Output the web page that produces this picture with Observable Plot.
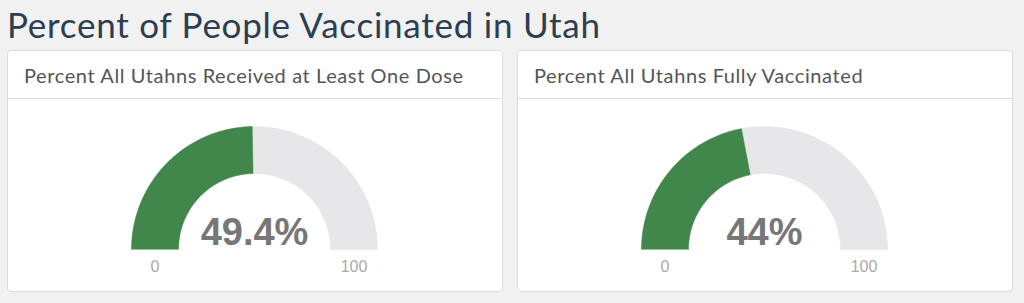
<!DOCTYPE html>
<html><head><meta charset="utf-8">
<script src="https://cdn.jsdelivr.net/npm/d3@7"></script>
<script src="https://cdn.jsdelivr.net/npm/@observablehq/plot@0.6"></script>
<style>
html,body{margin:0;padding:0}
body{background:#f1f1f1;font-family:Lato,sans-serif;width:1024px;height:303px;overflow:hidden;position:relative}
h1{position:absolute;left:7px;top:0px;margin:0;font-weight:400;font-size:35px;letter-spacing:0.75px;line-height:48px;color:#2c3e50;white-space:nowrap}
.card{position:absolute;top:50px;width:496px;height:242px;background:#fff;border:1px solid #dcdcdc;border-radius:4px;box-sizing:border-box;overflow:hidden}
.hdr{height:48px;border-bottom:1px solid #dcdcdc;box-sizing:border-box;padding-left:16px;font-size:20px;letter-spacing:0.6px;line-height:49px;color:#555;white-space:nowrap}
.card svg{display:block}
</style></head>
<body>
<h1>Percent of People Vaccinated in Utah</h1>
<div class="card" id="c0" style="left:7px"><div class="hdr"></div></div>
<div class="card" id="c1" style="left:517px"><div class="hdr"></div></div>
<script>
const titles = ["Percent All Utahns Received at Least One Dose", "Percent All Utahns Fully Vaccinated"];
const values = [49.4, 44];
const valueLabels = ["49.4%", "44%"];
const tickLabels = ["0", "100"];
const scaleMin = 0, scaleMax = 100;

const R = 123, r = 76;          // gauge radii in px units
const W = 494, H = 190, cx = 246, cy = 150;

function sector(v0, v1) {
  const a0 = Math.PI * (1 - (v0 - scaleMin) / (scaleMax - scaleMin));
  const a1 = Math.PI * (1 - (v1 - scaleMin) / (scaleMax - scaleMin));
  const n = 90, pts = [];
  for (let i = 0; i <= n; i++) { const a = a0 + (a1 - a0) * i / n; pts.push({x: R * Math.cos(a), y: R * Math.sin(a)}); }
  for (let i = n; i >= 0; i--) { const a = a0 + (a1 - a0) * i / n; pts.push({x: r * Math.cos(a), y: r * Math.sin(a)}); }
  return pts;
}

values.forEach((v, k) => {
  const card = document.getElementById("c" + k);
  card.querySelector(".hdr").textContent = titles[k];
  const ticks = [{x: -(R + r) / 2, y: -17, t: tickLabels[0]}, {x: (R + r) / 2, y: -17, t: tickLabels[1]}];
  const chart = Plot.plot({
    width: W, height: H,
    margin: 0,
    x: {domain: [-cx, W - cx], axis: null},
    y: {domain: [-(H - cy), cy], axis: null},
    style: {background: "transparent", overflow: "visible"},
    marks: [
      Plot.line(sector(scaleMin, scaleMax), {x: "x", y: "y", fill: "#e7e6e8", stroke: "#e7e6e8", strokeWidth: 0.5, curve: "linear"}),
      Plot.line(sector(scaleMin, v), {x: "x", y: "y", fill: "#41874b", stroke: "#41874b", strokeWidth: 0.5, curve: "linear"}),
      Plot.text([valueLabels[k]], {x: () => 0, y: () => 17, text: d => d, fontSize: 38, fontWeight: "bold", fill: "#777", fontFamily: "Liberation Sans, Arial, sans-serif"}),
      Plot.text(ticks, {x: "x", y: "y", text: "t", fontSize: 16, fill: "#aaa", fontFamily: "Liberation Sans, Arial, sans-serif"})
    ]
  });
  card.appendChild(chart);
});
</script>
</body></html>
